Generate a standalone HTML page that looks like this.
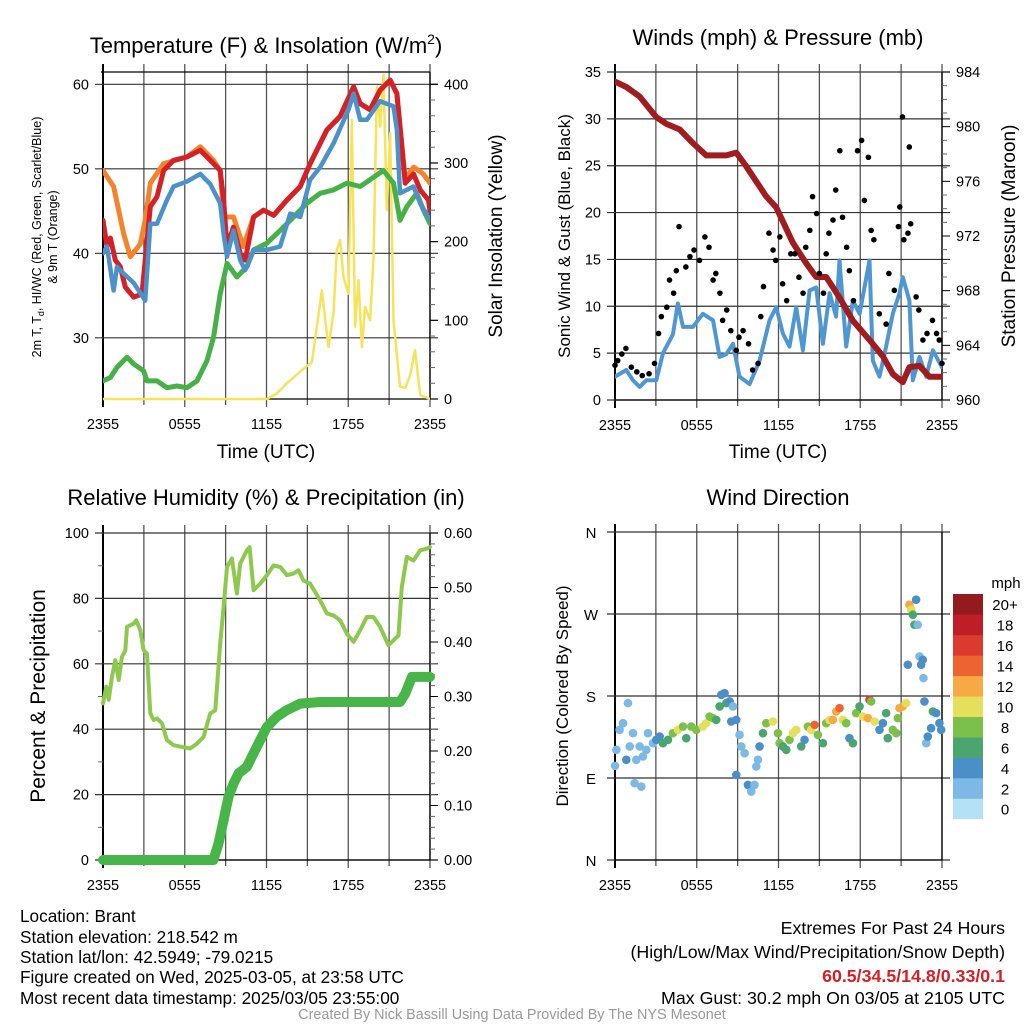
<!DOCTYPE html>
<html><head><meta charset="utf-8"><style>
body{margin:0;background:#fff;width:1024px;height:1024px;overflow:hidden;font-family:"Liberation Sans",sans-serif}
svg text{font-family:"Liberation Sans",sans-serif}
</style></head><body>
<svg id="s" width="1024" height="1024" viewBox="0 0 1024 1024" xmlns="http://www.w3.org/2000/svg">
<defs>
<clipPath id="c1"><rect x="103" y="60" width="327" height="341"/></clipPath>
<clipPath id="c2"><rect x="615" y="60" width="327" height="341"/></clipPath>
<clipPath id="c3"><rect x="97" y="520" width="340" height="346"/></clipPath>
<clipPath id="c4"><rect x="609" y="526" width="340" height="340"/></clipPath>
</defs>
<g id="root"></g>
<text x="266" y="53" font-size="22" text-anchor="middle">Temperature (F) &amp; Insolation (W/m<tspan font-size="14" dy="-9">2</tspan><tspan dy="9">)</tspan></text>
<text x="778" y="45" font-size="22" text-anchor="middle">Winds (mph) &amp; Pressure (mb)</text>
<text x="266" y="505" font-size="22" text-anchor="middle">Relative Humidity (%) &amp; Precipitation (in)</text>
<text x="778" y="505" font-size="22" text-anchor="middle">Wind Direction</text>
<text x="266" y="458" font-size="19" text-anchor="middle">Time (UTC)</text>
<text x="778" y="458" font-size="19" text-anchor="middle">Time (UTC)</text>
<text transform="translate(41,237) rotate(-90)" font-size="12.5" text-anchor="middle">2m T, T<tspan font-size="9" dy="3">d</tspan><tspan dy="-3">, HI/WC (Red, Green, Scarlet/Blue)</tspan></text>
<text transform="translate(57,237) rotate(-90)" font-size="12.5" text-anchor="middle">&amp; 9m T (Orange)</text>
<text transform="translate(502,236) rotate(-90)" font-size="19" text-anchor="middle">Solar Insolation (Yellow)</text>
<text transform="translate(570,236) rotate(-90)" font-size="17" text-anchor="middle">Sonic Wind &amp; Gust (Blue, Black)</text>
<text transform="translate(1015,236) rotate(-90)" font-size="19" text-anchor="middle">Station Pressure (Maroon)</text>
<text transform="translate(45,696) rotate(-90)" font-size="21" text-anchor="middle">Percent &amp; Precipitation</text>
<text transform="translate(568,696) rotate(-90)" font-size="17" text-anchor="middle">Direction (Colored By Speed)</text>
<g font-size="17.2">
<text x="20" y="922">Location: Brant</text>
<text x="20" y="943">Station elevation: 218.542 m</text>
<text x="20" y="963">Station lat/lon: 42.5949; -79.0215</text>
<text x="20" y="983">Figure created on Wed, 2025-03-05, at 23:58 UTC</text>
<text x="20" y="1004">Most recent data timestamp: 2025/03/05 23:55:00</text>
</g>
<g font-size="17.8" text-anchor="end">
<text x="1005" y="934">Extremes For Past 24 Hours</text>
<text x="1005" y="958">(High/Low/Max Wind/Precipitation/Snow Depth)</text>
<text x="1005" y="982" fill="#d42127" font-weight="bold">60.5/34.5/14.8/0.33/0.1</text>
<text x="1005" y="1004">Max Gust: 30.2 mph On 03/05 at 2105 UTC</text>
</g>
<text x="512" y="1019" font-size="14.4" fill="#999" text-anchor="middle">Created By Nick Bassill Using Data Provided By The NYS Mesonet</text>
</svg>
<script>
// ---- data (hours since 2355) ----
const redH=[0,0.29,0.54,0.9,1.27,1.64,2.25,2.86,3.1,3.47,3.96,4.45,5.18,6.16,7.14,7.87,8.6,8.85,9.1,9.58,10.07,10.44,11.05,11.78,12.52,13.5,14.47,15.2,16.43,17.4,18.39,18.88,19.6,20.34,21.08,21.57,22.18,22.79,23.28,23.89,24];
const redT=[43.9,40.8,41.8,39.2,38.4,36,34.8,35.2,39.2,45.5,46.7,49.8,51,51.4,52.2,51,49.8,46.3,40.8,43.1,40,39.2,44.3,45.1,44.5,46.3,47.9,50.6,54.6,56.2,59.7,57.7,57,59.3,60.5,58.9,48.3,49.4,47.5,46.3,45];
const orH=[0,0.78,1.52,2,2.74,3.1,3.47,4.45,6.16,7.14,8.1,8.6,8.85,9.58,10.3,11.05,11.78,12.52,13.5,14.47,15.2,16.43,17.4,18.39,18.88,19.6,20.34,21.08,21.57,22.18,22.8,23.5,24];
const orT=[49.8,47.9,42.3,39.6,41.1,43.9,48.3,50.6,51.4,52.6,51,49.8,44.3,44.3,40.8,44.3,45.1,44.5,46.3,47.9,50.6,54.6,56.2,59.7,57.7,57,59.3,60.5,58.9,48.8,50.2,49.4,48.3];
const blH=[0,0.29,0.78,1.03,1.52,2.25,3.1,3.47,3.96,4.69,5.18,6.16,7.14,7.87,8.6,8.85,9.1,9.58,10.07,10.44,11.05,12.03,13,13.74,14.47,15.2,15.94,16.92,18.02,18.39,18.88,19.36,20.34,21.32,21.57,21.8,22.79,23.28,24];
const blT=[40,40.8,35.6,38.4,37.6,36.5,34.4,43.5,43.5,46.3,47.9,48.5,49.4,48.2,45.9,42.3,39.6,42.7,39.2,38,40.4,40.4,40.8,44.7,44.3,48.7,50.2,53,57,58.9,55.8,55.8,58,57.4,54.6,47.1,47.9,45.9,44];
const gnH=[0,0.54,1.03,1.76,2.25,2.98,3.23,3.96,4.69,5.43,6.16,6.9,7.63,8.12,8.6,9.1,9.83,10.56,11.05,12.03,13,13.99,14.96,15.94,16.92,17.9,18.88,19.85,20.59,21.32,21.8,22.3,23.03,23.52,24];
const gnT=[24.9,25.3,26.5,27.7,26.9,26.1,24.9,24.9,24.1,24.3,24.1,24.9,27.3,30.1,35.2,38.8,37.2,38.4,40.4,41.2,42.7,44.3,45.9,47.1,47.5,48.3,47.9,49,49.8,48.3,43.9,45.5,47.1,45.1,43.5];
const solH=[0,12.03,12.76,13.5,14.47,15.33,15.7,16.06,16.55,16.92,17.16,17.4,17.65,18.02,18.26,18.5,18.75,19,19.24,19.6,19.85,20.1,20.34,20.59,20.83,21.08,21.32,21.8,22.18,22.54,22.9,23.28,24];
const solV=[0,0,7,20,35,47,92,138,66,109,189,202,155,134,355,92,151,66,117,100,177,397,346,412,240,338,100,16,14,30,62,5,0];
const presH=[0,0.83,1.81,3.03,3.77,4.74,5.72,6.7,8.17,8.9,9.63,11.1,11.83,13.06,14.03,14.77,15.5,16.48,17.46,18.68,19.66,20.39,21.12,21.61,22.35,23.08,24];
const presV=[983.3,982.9,982.2,980.7,980.2,979.8,978.8,977.9,977.9,978.1,977.1,974.9,974.1,971.5,970,969,969,967.5,965.8,964.4,963.2,961.9,961.3,962.4,962.5,961.7,961.7];
const windH=[0,0.83,1.32,1.81,2.3,3.03,3.52,4.25,4.62,4.99,5.72,6.45,7.19,7.68,8.17,8.66,9.14,9.88,10.61,11.34,11.83,12.32,12.81,13.3,13.79,14.28,14.77,15.26,15.75,16.23,16.48,16.97,17.46,17.95,18.68,18.92,19.41,19.9,20.39,20.88,21.12,21.61,21.86,22.35,22.84,23.33,23.99];
const windV=[2.5,3.2,2.1,1.4,2.1,2.1,5,7,10.3,7.8,7.8,9.2,8.5,4.6,4.9,6,2.5,1.7,4.2,8.5,9.9,7.1,5.7,9.9,5.3,11.7,12,6,11.4,8.9,14.9,5.7,10.6,9.2,14.9,4.2,2.5,5.7,9.2,11.4,13.1,10.6,2.1,4.6,2.5,5.3,3.5];
const gustH=[0,0.2,0.5,0.8,1.2,1.6,2,2.5,2.9,3.2,3.4,3.8,4,4.3,4.5,4.7,5.2,5.5,5.8,6.2,6.6,6.9,7.2,7.4,7.7,7.9,8.2,8.5,8.9,9.1,9.4,9.8,10.1,10.5,10.7,10.9,11.3,11.6,11.8,12.1,12.3,12.6,12.9,13.2,13.5,13.8,14,14.3,14.5,14.8,15,15.3,15.5,15.7,16,16.2,16.5,16.7,17,17.2,17.5,17.8,18.1,18.3,18.6,18.8,19,19.4,19.9,20.1,20.5,20.8,20.9,21.1,21.2,21.5,21.6,21.7,22.1,22.3,22.6,22.9,23.3,23.6,23.8,24];
const gustV=[3.7,4.2,4.9,5.5,3.5,3,2.6,2.8,3.9,7.1,8.9,9.9,12.8,11.4,13.8,18.5,14.2,15.3,16,14.9,17.4,16.3,12.8,13.5,11.4,8.5,9.6,7.4,5.3,6.7,7.4,6,3.2,3.9,8.9,12.1,17.8,16,14.9,17.4,12.4,10.6,15.6,15.6,13.1,11.4,16.3,18.1,21.7,19.9,13.5,11.4,15.6,17.8,19.2,22.4,26.6,19.5,16.3,13.8,10.6,26.6,27.7,21.3,25.9,18.1,17.1,9.2,8.1,13.5,11.7,18.5,20.6,30.2,17.1,17.8,27,18.8,11,9.6,6.4,7.1,8.5,7.1,6.4,3.9];
const rhH=[0,0.24,0.42,0.66,0.9,1.15,1.39,1.64,1.76,2.25,2.44,2.74,2.98,3.23,3.47,3.72,3.96,4.33,4.69,5.18,5.79,6.4,6.9,7.38,7.87,8.24,8.6,8.85,9.1,9.46,9.83,10.07,10.56,10.76,11.05,11.54,12.03,12.52,13.01,13.5,13.99,14.35,14.71,15.2,15.94,16.43,16.92,17.4,17.9,18.39,18.88,19.36,19.85,20.34,20.95,21.32,21.69,21.93,22.3,22.79,23.28,23.77,24];
const rhV=[47.9,53,49,56,61.1,55,62.1,64,71.3,72.3,73.3,70.3,64.2,63.1,44.8,42.8,43.3,41.8,36.7,35.1,34.6,34.1,35.6,37.7,44.8,45.8,66.2,77.4,89.6,92.2,81.5,90.6,94.7,95.7,82.5,84.5,87.1,90.1,89.6,87.1,87.6,88.6,85.5,84.5,79.4,75.4,74.8,73.3,69.2,66.7,70.3,74.3,74.3,71.3,65.7,67.2,68.7,83.5,92.7,91.6,94.7,95.2,95.7];
const prH=[0,8.1,8.48,8.85,9.21,9.58,9.95,10.56,11.05,11.54,12.03,12.76,13.5,14.47,15.94,21.8,22.18,22.67,24];
const prV=[0,0,0.03,0.073,0.116,0.14,0.159,0.171,0.196,0.22,0.244,0.263,0.275,0.287,0.29,0.29,0.305,0.336,0.336];
const dirH=[0,0.1,0.34,0.59,0.83,0.95,1.08,1.32,1.44,1.56,1.81,1.93,2.05,2.3,2.42,2.79,3.03,3.28,3.52,3.89,4.25,4.62,4.99,5.23,5.6,5.97,6.45,6.7,6.94,7.19,7.43,7.68,7.8,8.04,8.17,8.41,8.53,8.66,8.9,9.14,8.9,9.27,9.51,9.76,10,10.24,10.37,10.49,10.61,10.86,11.1,11.59,11.96,12.08,12.32,12.57,12.81,13.06,13.3,13.67,13.91,14.16,14.4,14.65,14.89,15.26,15.5,15.75,15.99,16.23,16.48,16.72,16.97,17.21,17.46,17.7,17.95,18.19,18.56,18.68,18.8,19.05,19.41,19.66,19.9,20.02,20.39,20.64,20.76,20.88,21.12,21.37,21.49,21.61,21.74,21.86,21.98,22.1,22.22,22.35,22.47,22.59,22.64,22.71,22.84,22.96,23.2,23.33,23.57,23.81,23.94];
const dirD=[103.3,120.9,142.9,150.2,110,172.2,124.6,139.2,84.3,110,124.6,80.6,113.6,120.9,139.2,128.2,131.9,135.5,128.2,131.9,139.2,142.9,146.5,133.7,146.5,142.9,146.5,150.2,157.5,155.7,153.8,168.5,181.3,183.1,172.2,174,152,168.5,153.8,137.4,93.4,124.6,117.2,82.4,75.1,82.4,102.6,110,124.6,139.2,150.2,152,139.2,128.2,124.6,120.9,131.9,139.2,142.9,124.6,131.9,146.5,142.9,148.3,137.4,128.2,150.2,153.8,153.8,163,166.7,153.8,150.2,133.7,128.2,161.2,168.5,157.5,155.7,175.8,174,152,142.9,150.2,161.2,133.7,142.9,139.2,155.7,166.7,168.5,172.2,214.3,280.2,274.7,269.2,258.2,285.7,258.2,223.4,214.3,219.8,199.6,174,128.2,135.5,144.7,163,161.2,150.2,142.9];
const dirS=[2,2,2,2,4,2,2,2,2,2,1,1,2,2,2,2,3,4,6,6,7,10,8,6,7,8,10,9,8,8,6,6,4,4,6,4,4,2,4,2,4,2,2,4,2,2,2,2,4,6,8,10,7,8,6,6,8,9,10,6,4,8,10,13,8,6,8,10,11,12,14,10,8,4,6,7,6,10,12,15,8,10,4,4,6,6,8,8,8,12,12,10,4,12,10,6,6,4,2,2,4,4,2,4,2,4,4,6,4,4,4];
const cbLabels=["0","2","4","6","8","10","12","14","16","18","20+"];
const cbColors=["#b5e1f6","#7cb9e4","#4a8fc8","#4aa56e","#7cc04b","#e5e05b","#f6a945","#ee6430","#dc3a2e","#bf1e27","#941a1e"];

const NS="http://www.w3.org/2000/svg";
const root=document.getElementById('root');
function mk(tag,attrs,parent){const e=document.createElementNS(NS,tag);for(const k in attrs)e.setAttribute(k,attrs[k]);(parent||root).appendChild(e);return e;}
function lin(d0,d1,r0,r1){return v=>r0+(v-d0)*(r1-r0)/(d1-d0);}

const P1={x0:103,x1:430,y0:72,y1:399}, P2={x0:615,x1:942,y0:72,y1:400}, P3={x0:103,x1:430,y0:533,y1:860}, P4={x0:615,x1:942,y0:532,y1:860};
const xs1=lin(0,24,P1.x0,P1.x1), xs2=lin(0,24,P2.x0,P2.x1), xs3=lin(0,24,P3.x0,P3.x1), xs4=lin(0,24,P4.x0,P4.x1);
const tY=lin(60,40,84.3,253.3), solY=lin(0,400,399,84.3);
const wY=lin(0,35,400,72), pY=lin(960,984,400,72);
const rhY=lin(0,100,860,533), prY=lin(0,0.6,860,533);
const dY=lin(0,360,860,532);
const tickLbl=["2355","0555","1155","1755","2355"];

function frame(P,xs,hy,name){
  const g=mk('g',{});
  
  
  for(let h=0;h<=24;h+=3){const x=xs(h);mk('line',{x1:x,x2:x,y1:P.y0-8,y2:P.y1+(h%6==0?8:6),stroke:(h==0?'#000':'#555'),'stroke-width':(h==0?2:1.3)},g);}
  hy.forEach(y=>mk('line',{x1:P.x0-8,x2:P.x1+8,y1:y,y2:y,stroke:'#333','stroke-width':1.2},g));
  mk('line',{x1:P.x0,x2:P.x1,y1:P.y1,y2:P.y1,stroke:'#000','stroke-width':1.3},g);
  mk('line',{x1:P.x1,x2:P.x1,y1:P.y0,y2:P.y1,stroke:'#000','stroke-width':1.3},g);
  tickLbl.forEach((t,i)=>{const tx=mk('text',{x:xs(i*6),y:P.y1+30,'font-size':14.5,'text-anchor':'middle'},g);tx.textContent=t;
    
    });
  return g;
}
function ylab(P,vals,ys,fmt,side,name){
  const g=mk('g',{});
  
  
  vals.forEach(v=>{const y=ys(v);const t=mk('text',{x:side=='l'?P.x0-14:P.x1+14,y:y+5,'font-size':14.5,'text-anchor':side=='l'?'end':'start'},g);t.textContent=fmt(v);});
}
function minor(P,vals,ys,side,len){
  const g=mk('g',{stroke:'#666','stroke-width':1});
  
  
  vals.forEach(v=>{const y=ys(v);const x=side=='l'?P.x0:P.x1;mk('line',{x1:x,x2:side=='l'?x-len:x+len,y1:y,y2:y},g);});
}
function path(xsF,ysF,H,V,attrs,clip,name){
  let d='';H.forEach((h,i)=>{d+=(i?'L':'M')+xsF(h).toFixed(1)+','+ysF(V[i]).toFixed(1);});
  const e=mk('path',Object.assign({d:d,fill:'none','stroke-linejoin':'round','stroke-linecap':'round','clip-path':'url(#'+clip+')'},attrs));
  
  
  return e;
}

// Panel 1
frame(P1,xs1,[30,40,50,60].map(tY),'temp');
mk('line',{x1:P1.x0-2,x2:P1.x1,y1:P1.y0,y2:P1.y0,stroke:'#000','stroke-width':1.3});
mk('line',{x1:P1.x1,x2:P1.x1+8,y1:solY(0),y2:solY(0),stroke:'#000','stroke-width':1.2});
[100,200,300,400].forEach(v=>mk('line',{x1:P1.x1,x2:P1.x1+8,y1:solY(v),y2:solY(v),stroke:'#000','stroke-width':1.2}));
minor(P1,[20,40,60,80,120,140,160,180,220,240,260,280,320,340,360,380],solY,'r',5);
ylab(P1,[30,40,50,60],tY,v=>v,'l','temp-y-ticks');
ylab(P1,[0,100,200,300,400],solY,v=>v,'r','solar-y-ticks');
path(xs1,solY,solH,solV,{stroke:'#f7e35a','stroke-width':2.5},'c1','solar-line');
path(xs1,tY,gnH,gnT,{stroke:'#46b146','stroke-width':5},'c1','dewpoint-line');
path(xs1,tY,orH,orT,{stroke:'#f4832b','stroke-width':5},'c1','temp-9m-line');
path(xs1,tY,redH,redT,{stroke:'#d42127','stroke-width':5},'c1','temp-2m-line');
path(xs1,tY,blH,blT,{stroke:'#4b92cb','stroke-width':4.5},'c1','heat-index-line');

// Panel 2
frame(P2,xs2,[0,5,10,15,20,25,30,35].map(wY),'wind');
minor(P2,[961,962,963,965,966,967,969,970,971,973,974,975,977,978,979,981,982,983],pY,'r',5);
[960,964,968,972,976,980,984].forEach(v=>mk('line',{x1:P2.x1,x2:P2.x1+8,y1:pY(v),y2:pY(v),stroke:'#000'}));
ylab(P2,[0,5,10,15,20,25,30,35],wY,v=>v,'l','wind-y-ticks');
ylab(P2,[960,964,968,972,976,980,984],pY,v=>v,'r','pressure-y-ticks');
path(xs2,wY,windH,windV,{stroke:'#4f97d2','stroke-width':4},'c2','wind-speed-line');
path(xs2,pY,presH,presV,{stroke:'#a11c1e','stroke-width':6},'c2','pressure-line');
gustH.forEach((h,i)=>{const c=mk('circle',{cx:xs2(h),cy:wY(gustV[i]),r:2.8,fill:'#000'});
  
  });

// Panel 3
frame(P3,xs3,[0,20,40,60,80,100].map(rhY),'rh');
minor(P3,[10,30,50,70,90],rhY,'l',5);
minor(P3,[0.02,0.04,0.06,0.08,0.12,0.14,0.16,0.18,0.22,0.24,0.26,0.28,0.32,0.34,0.36,0.38,0.42,0.44,0.46,0.48,0.52,0.54,0.56,0.58],prY,'r',5);
[0,0.1,0.2,0.3,0.4,0.5,0.6].forEach(v=>mk('line',{x1:P3.x1,x2:P3.x1+8,y1:prY(v),y2:prY(v),stroke:'#000'}));
ylab(P3,[0,20,40,60,80,100],rhY,v=>v,'l','rh-y-ticks');
ylab(P3,[0,0.1,0.2,0.3,0.4,0.5,0.6],prY,v=>v.toFixed(2),'r','precip-y-ticks');
path(xs3,rhY,rhH,rhV,{stroke:'#8dc94c','stroke-width':4},'c3','rh-line');
path(xs3,prY,prH,prV,{stroke:'#48b548','stroke-width':10},'c3','precip-line');

// Panel 4
frame(P4,xs4,[0,90,180,270,360].map(dY),'dir');
const dl=["N","E","S","W","N"];
[0,90,180,270,360].forEach((v,i)=>{const t=mk('text',{x:P4.x0-24,y:dY(v)+6,'font-size':15,'text-anchor':'middle'});t.textContent=dl[i];
  
  });
dirH.forEach((h,i)=>{const k=Math.min(10,Math.max(0,Math.round(dirS[i]/2)));const c=mk('circle',{cx:xs4(h),cy:dY(dirD[i]),r:4.3,fill:cbColors[k],'clip-path':'url(#c4)'});
  
  });
const cb=mk('g',{});


const cbTop=594,cbH=20.45;
cbLabels.forEach((l,i)=>{const y=cbTop+(10-i)*cbH;mk('rect',{x:953,y:y,width:30,height:cbH+0.3,fill:cbColors[i]},cb);
  const t=mk('text',{x:1005,y:y+cbH/2+6,'font-size':15,'text-anchor':'middle'},cb);t.textContent=l;});
const mph=mk('text',{x:1006,y:588,'font-size':15,'text-anchor':'middle'},cb);mph.textContent='mph';
</script>
</body></html>
